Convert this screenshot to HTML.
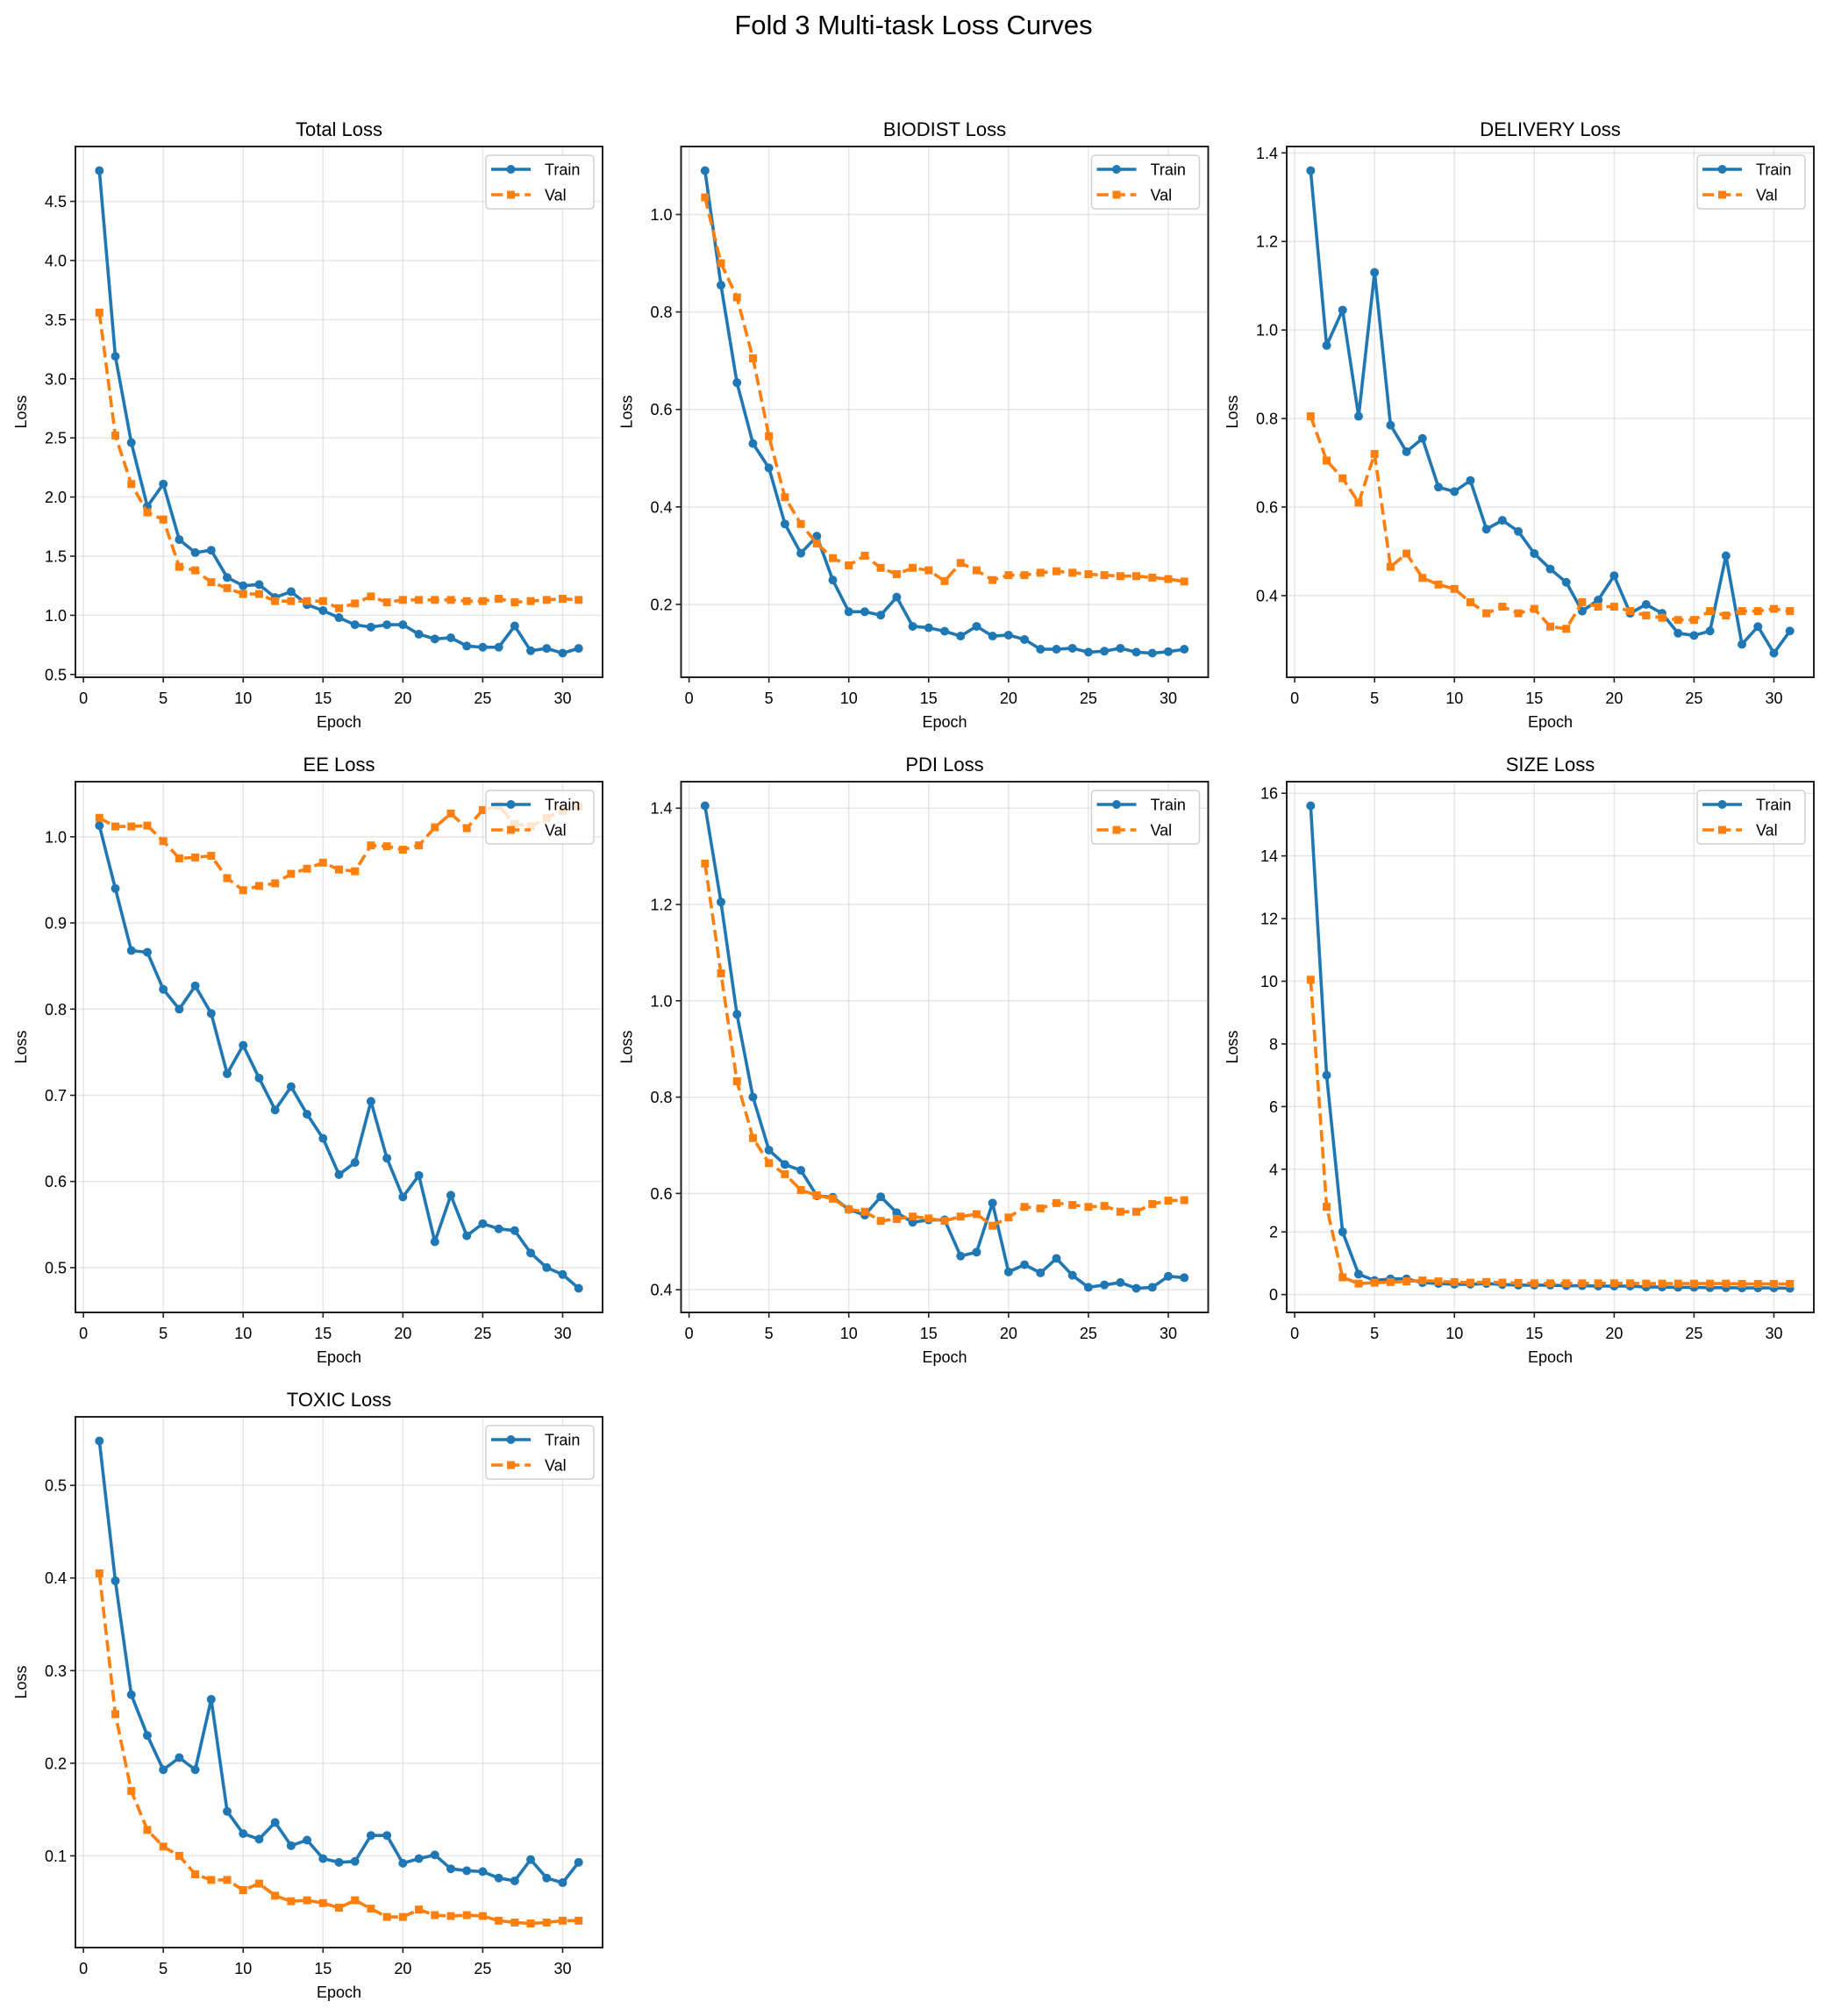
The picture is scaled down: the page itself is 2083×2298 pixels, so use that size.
<!DOCTYPE html>
<html><head><meta charset="utf-8">
<style>
html,body{margin:0;padding:0;background:#fff;}
svg{display:block;font-family:"Liberation Sans",Arial,sans-serif;}
</style></head>
<body>
<svg id="s" width="2083" height="2298" viewBox="0 0 2083 2298" xmlns="http://www.w3.org/2000/svg">
<rect width="2083" height="2298" fill="#fff"/>
<text x="1041.5" y="39" font-size="31" text-anchor="middle" fill="#000">Fold 3 Multi-task Loss Curves</text>
</svg>
<script>
const charts=[
{t:"Total Loss",ticks:[0.5,1.0,1.5,2.0,2.5,3.0,3.5,4.0,4.5],dec:1,
tr:[4.76,3.19,2.46,1.92,2.11,1.64,1.53,1.55,1.32,1.25,1.26,1.15,1.20,1.09,1.04,0.98,0.92,0.90,0.92,0.92,0.84,0.80,0.81,0.74,0.73,0.73,0.91,0.70,0.72,0.68,0.72],
va:[3.56,2.52,2.11,1.87,1.81,1.41,1.38,1.28,1.23,1.18,1.18,1.12,1.12,1.12,1.12,1.06,1.10,1.16,1.11,1.13,1.13,1.13,1.13,1.12,1.12,1.14,1.11,1.12,1.13,1.14,1.13]},
{t:"BIODIST Loss",ticks:[0.2,0.4,0.6,0.8,1.0],dec:1,
tr:[1.09,0.855,0.655,0.53,0.48,0.365,0.305,0.34,0.25,0.185,0.185,0.178,0.215,0.155,0.152,0.145,0.135,0.155,0.135,0.137,0.128,0.108,0.108,0.11,0.102,0.104,0.11,0.102,0.1,0.103,0.108],
va:[1.035,0.9,0.83,0.705,0.545,0.42,0.365,0.325,0.295,0.28,0.30,0.275,0.262,0.275,0.27,0.248,0.285,0.27,0.25,0.26,0.26,0.265,0.268,0.265,0.262,0.26,0.258,0.258,0.255,0.252,0.247]},
{t:"DELIVERY Loss",ticks:[0.4,0.6,0.8,1.0,1.2,1.4],dec:1,
tr:[1.36,0.965,1.045,0.805,1.13,0.785,0.725,0.755,0.645,0.635,0.66,0.55,0.57,0.545,0.495,0.46,0.43,0.365,0.39,0.445,0.36,0.38,0.36,0.315,0.31,0.32,0.49,0.29,0.33,0.27,0.32],
va:[0.805,0.705,0.665,0.61,0.72,0.465,0.495,0.44,0.425,0.415,0.385,0.36,0.375,0.36,0.37,0.33,0.325,0.385,0.375,0.375,0.365,0.355,0.35,0.345,0.345,0.365,0.355,0.365,0.365,0.37,0.365]},
{t:"EE Loss",ticks:[0.5,0.6,0.7,0.8,0.9,1.0],dec:1,
tr:[1.013,0.94,0.868,0.866,0.823,0.80,0.827,0.795,0.725,0.758,0.72,0.683,0.71,0.678,0.65,0.608,0.622,0.693,0.627,0.582,0.607,0.53,0.584,0.537,0.551,0.545,0.543,0.517,0.5,0.492,0.476],
va:[1.022,1.012,1.012,1.013,0.995,0.975,0.976,0.978,0.952,0.938,0.943,0.946,0.957,0.963,0.97,0.962,0.96,0.99,0.989,0.985,0.99,1.011,1.027,1.01,1.031,1.036,1.015,1.012,1.022,1.03,1.035]},
{t:"PDI Loss",ticks:[0.4,0.6,0.8,1.0,1.2,1.4],dec:1,
tr:[1.405,1.205,0.972,0.8,0.69,0.66,0.648,0.595,0.592,0.567,0.555,0.593,0.56,0.54,0.545,0.545,0.47,0.478,0.58,0.437,0.452,0.435,0.465,0.43,0.405,0.41,0.415,0.403,0.405,0.428,0.425],
va:[1.285,1.057,0.833,0.715,0.663,0.64,0.607,0.596,0.589,0.567,0.562,0.543,0.547,0.552,0.548,0.543,0.552,0.557,0.533,0.55,0.572,0.569,0.58,0.576,0.572,0.574,0.562,0.562,0.578,0.585,0.586]},
{t:"SIZE Loss",ticks:[0,2,4,6,8,10,12,14,16],dec:0,
tr:[15.6,7.0,2.0,0.65,0.45,0.5,0.5,0.38,0.35,0.33,0.33,0.35,0.32,0.3,0.3,0.3,0.28,0.28,0.27,0.27,0.27,0.24,0.24,0.23,0.23,0.22,0.22,0.21,0.21,0.21,0.2],
va:[10.05,2.8,0.55,0.35,0.38,0.4,0.42,0.45,0.42,0.4,0.38,0.4,0.38,0.37,0.36,0.36,0.36,0.36,0.36,0.36,0.36,0.35,0.35,0.35,0.35,0.35,0.35,0.34,0.34,0.34,0.34]},
{t:"TOXIC Loss",ticks:[0.1,0.2,0.3,0.4,0.5],dec:1,
tr:[0.548,0.397,0.274,0.23,0.193,0.206,0.193,0.269,0.148,0.124,0.118,0.136,0.111,0.117,0.097,0.093,0.094,0.122,0.122,0.092,0.097,0.101,0.086,0.084,0.083,0.076,0.073,0.096,0.076,0.071,0.093],
va:[0.405,0.253,0.17,0.128,0.11,0.1,0.08,0.074,0.074,0.063,0.07,0.057,0.051,0.052,0.049,0.044,0.052,0.043,0.034,0.034,0.042,0.036,0.035,0.036,0.035,0.03,0.028,0.027,0.028,0.03,0.03]}
];
const lefts=[86,776.5,1467], tops=[167,891,1615], W=601, H=605;
let out="";
charts.forEach((c,i)=>{
 const L=lefts[i%3], T=tops[Math.floor(i/3)];
 const all=c.tr.concat(c.va); let mn=Math.min(...all), mx=Math.max(...all);
 const r=mx-mn; const y0=mn-0.05*r, y1=mx+0.05*r;
 const X=x=>L+(x+0.5)/33*W, Y=y=>T+H-(y-y0)/(y1-y0)*H;
 out+=`<g>`;
 // grid
 for(let x=0;x<=30;x+=5){const px=X(x);out+=`<line x1="${px}" y1="${T}" x2="${px}" y2="${T+H}" stroke="#b0b0b0" stroke-opacity="0.3" stroke-width="1.5"/>`;
  out+=`<line x1="${px}" y1="${T+H}" x2="${px}" y2="${T+H+6}" stroke="#222" stroke-width="1.6"/>`;
  out+=`<text x="${px}" y="${T+H+30}" font-size="18" text-anchor="middle">${x}</text>`;}
 c.ticks.forEach(v=>{const py=Y(v);out+=`<line x1="${L}" y1="${py}" x2="${L+W}" y2="${py}" stroke="#b0b0b0" stroke-opacity="0.3" stroke-width="1.5"/>`;
  out+=`<line x1="${L-6}" y1="${py}" x2="${L}" y2="${py}" stroke="#222" stroke-width="1.6"/>`;
  out+=`<text x="${L-10}" y="${py+6.5}" font-size="18" text-anchor="end">${v.toFixed(c.dec)}</text>`;});
 // series
 const pts=a=>a.map((v,k)=>`${X(k+1).toFixed(1)},${Y(v).toFixed(1)}`).join(" ");
 out+=`<polyline points="${pts(c.tr)}" fill="none" stroke="#1f77b4" stroke-width="3.6" stroke-linejoin="round"/>`;
 c.tr.forEach((v,k)=>{out+=`<circle cx="${X(k+1)}" cy="${Y(v)}" r="5" fill="#1f77b4"/>`;});
 out+=`<polyline points="${pts(c.va)}" fill="none" stroke="#ff7f0e" stroke-width="3.6" stroke-dasharray="13.3,5.8"/>`;
 c.va.forEach((v,k)=>{out+=`<rect x="${X(k+1)-4.5}" y="${Y(v)-4.5}" width="9" height="9" fill="#ff7f0e"/>`;});
 // spines
 out+=`<rect x="${L}" y="${T}" width="${W}" height="${H}" fill="none" stroke="#222" stroke-width="2"/>`;
 // titles
 out+=`<text x="${L+W/2}" y="${T-12}" font-size="22" text-anchor="middle">${c.t}</text>`;
 out+=`<text x="${L+W/2}" y="${T+H+57}" font-size="18" text-anchor="middle">Epoch</text>`;
 out+=`<text transform="translate(${L-56},${T+H/2}) rotate(-90)" font-size="18" text-anchor="middle">Loss</text>`;
 // legend
 const bx=L+W-133, by=T+10;
 out+=`<rect x="${bx}" y="${by}" width="123" height="61" rx="4" fill="#fff" fill-opacity="0.8" stroke="#d0d0d0" stroke-width="1.5"/>`;
 out+=`<line x1="${bx+6}" y1="${by+16}" x2="${bx+51}" y2="${by+16}" stroke="#1f77b4" stroke-width="3.6"/><circle cx="${bx+28.5}" cy="${by+16}" r="5" fill="#1f77b4"/>`;
 out+=`<text x="${bx+67}" y="${by+22.5}" font-size="18">Train</text>`;
 out+=`<line x1="${bx+6}" y1="${by+45}" x2="${bx+51}" y2="${by+45}" stroke="#ff7f0e" stroke-width="3.6" stroke-dasharray="13.3,5.8"/><rect x="${bx+24}" y="${by+40.5}" width="9" height="9" fill="#ff7f0e"/>`;
 out+=`<text x="${bx+67}" y="${by+51.5}" font-size="18">Val</text>`;
 out+=`</g>`;
});
document.getElementById("s").insertAdjacentHTML("beforeend",out);
</script>
</body></html>
